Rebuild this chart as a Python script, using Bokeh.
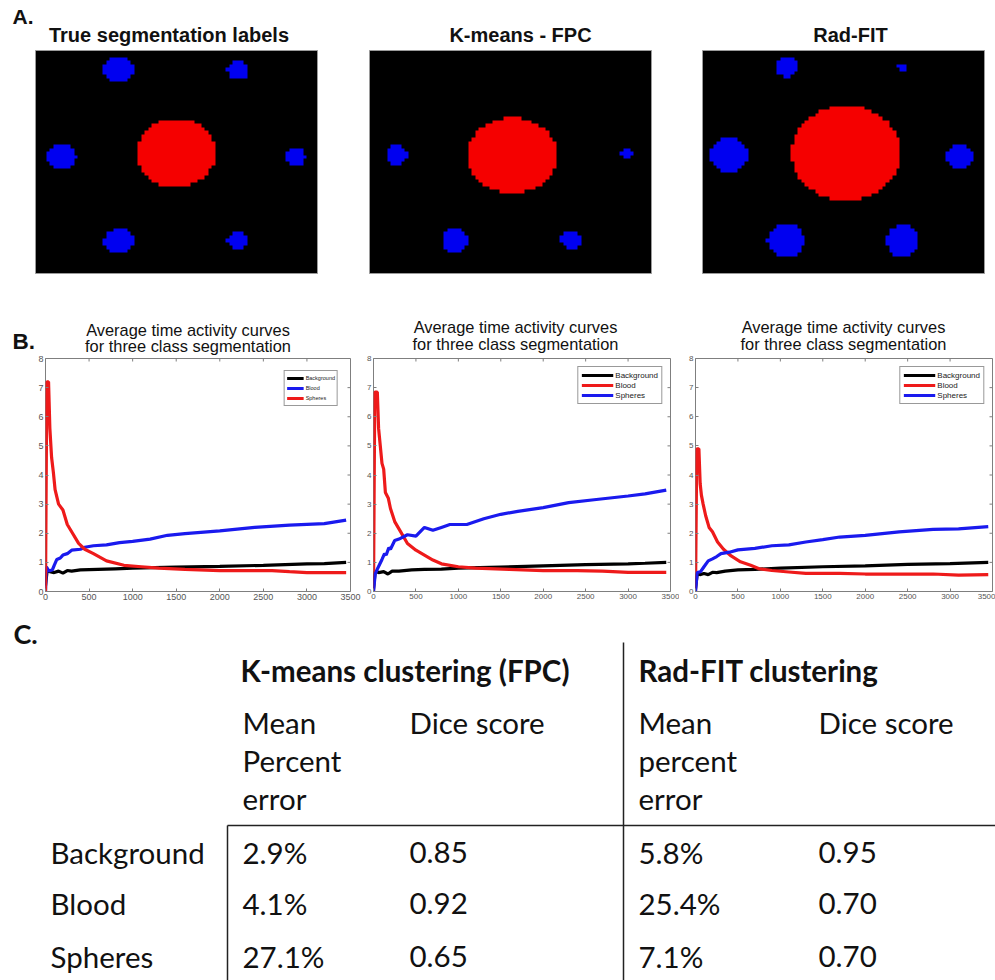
import numpy as np
from bokeh.plotting import figure
from bokeh.layouts import column, row
from bokeh.models import Range1d, FixedTicker, LinearColorMapper
from bokeh.core.properties import value
from bokeh.embed import file_html
from bokeh.resources import INLINE

# ------------------------------------------------------------------ data
panel_a_titles = ["True segmentation labels", "K-means - FPC", "Rad-FIT"]

# segmentation blobs: (class, cx, cy, rx, ry) in image pixels, origin top-left
# class 1 = red, class 2 = blue
blobs_true = [
    (1, 140.5, 102.5, 39.5, 34.5),
    (2, 83.0, 19.0, 15.0, 12.5),
    (2, 202.5, 19.5, 10.5, 9.5),
    (2, 26.0, 106.5, 15.0, 12.5),
    (2, 259.5, 106.5, 10.5, 9.5),
    (2, 83.0, 190.5, 15.0, 12.5),
    (2, 202.5, 190.0, 10.5, 9.0),
]
blobs_kmeans = [
    (1, 142.7, 105.0, 45.0, 38.0),
    (2, 27.0, 105.0, 11.0, 10.0),
    (2, 258.0, 103.0, 6.0, 5.0),
    (2, 85.5, 190.0, 12.5, 12.5),
    (2, 201.5, 189.5, 10.5, 8.5),
]
blobs_radfit = [
    (1, 143.7, 102.7, 55.0, 47.5),
    (2, 84.0, 17.0, 11.0, 10.0),
    (2, 199.5, 17.0, 4.5, 4.0),
    (2, 26.5, 104.5, 18.5, 18.0),
    (2, 257.5, 106.0, 14.5, 12.0),
    (2, 83.5, 190.0, 18.5, 17.0),
    (2, 200.0, 190.0, 16.0, 16.0),
]
seg_palette = ["#000000", "#f50000", "#0000f0"]

curve_title_1 = "Average time activity curves"
curve_title_2 = "for three class segmentation"
x_ticks = [0, 500, 1000, 1500, 2000, 2500, 3000, 3500]
y_ticks = [0, 1, 2, 3, 4, 5, 6, 7, 8]

# plot 1: true labels
p1_bg_x = [0, 20, 50, 100, 150, 200, 250, 300, 400, 600, 800, 1000, 1500, 2000, 2500, 3000, 3200, 3450]
p1_bg_y = [0.2, 0.75, 0.68, 0.65, 0.7, 0.63, 0.72, 0.7, 0.74, 0.76, 0.78, 0.8, 0.84, 0.86, 0.9, 0.95, 0.96, 1.0]
p1_blood_x = [0, 10, 40, 80, 100, 130, 170, 200, 250, 300, 400, 450, 550, 700, 850, 1000, 1200, 1400, 1600, 2000, 2400, 2800, 3200, 3450]
p1_blood_y = [0, 0.85, 0.7, 0.75, 0.9, 1.1, 1.15, 1.25, 1.3, 1.42, 1.45, 1.52, 1.57, 1.6, 1.68, 1.72, 1.8, 1.93, 1.99, 2.08, 2.2, 2.28, 2.33, 2.45]
p1_sph_x = [0, 15, 35, 50, 70, 90, 110, 150, 200, 250, 300, 380, 450, 550, 700, 900, 1100, 1300, 1600, 2000, 2300, 2600, 2800, 3000, 3450]
p1_sph_y = [0, 7.2, 7.2, 5.6, 4.6, 4.1, 3.5, 3.0, 2.8, 2.3, 2.05, 1.65, 1.45, 1.3, 1.05, 0.9, 0.85, 0.8, 0.76, 0.72, 0.72, 0.72, 0.68, 0.65, 0.65]

# plot 2: K-means - FPC
p2_bg_x = [0, 20, 60, 120, 170, 220, 300, 450, 600, 800, 1000, 1500, 2000, 2500, 3000, 3200, 3450]
p2_bg_y = [0.1, 0.7, 0.65, 0.68, 0.6, 0.7, 0.7, 0.74, 0.76, 0.77, 0.8, 0.84, 0.88, 0.92, 0.95, 0.97, 1.0]
p2_blood_x = [0, 15, 45, 60, 80, 100, 120, 140, 175, 200, 250, 300, 400, 500, 600, 700, 800, 1000, 1200, 1600, 2000, 2400, 2700, 3000, 3450]
p2_blood_y = [0, 6.85, 6.85, 5.6, 5.0, 4.4, 4.2, 3.4, 3.2, 2.85, 2.4, 2.15, 1.65, 1.42, 1.25, 1.08, 0.95, 0.85, 0.8, 0.76, 0.72, 0.72, 0.7, 0.66, 0.66]
p2_sph_x = [0, 20, 50, 100, 130, 150, 180, 200, 250, 300, 400, 500, 600, 700, 800, 900, 1100, 1300, 1500, 1700, 2000, 2300, 2600, 3000, 3200, 3450]
p2_sph_y = [0, 0.6, 0.8, 1.1, 1.3, 1.25, 1.5, 1.45, 1.75, 1.8, 1.95, 1.9, 2.2, 2.1, 2.2, 2.3, 2.3, 2.5, 2.65, 2.75, 2.88, 3.05, 3.15, 3.28, 3.35, 3.48]

# plot 3: Rad-FIT
p3_bg_x = [0, 20, 60, 100, 150, 200, 250, 350, 500, 700, 1000, 1500, 2000, 2500, 3000, 3450]
p3_bg_y = [0.1, 0.6, 0.58, 0.62, 0.58, 0.66, 0.65, 0.7, 0.74, 0.76, 0.8, 0.85, 0.88, 0.93, 0.96, 1.0]
p3_blood_x = [0, 15, 40, 55, 70, 90, 120, 160, 200, 260, 330, 420, 530, 650, 750, 900, 1100, 1300, 1700, 2000, 2500, 2800, 3100, 3450]
p3_blood_y = [0, 4.9, 4.9, 3.7, 3.3, 3.0, 2.6, 2.2, 2.05, 1.7, 1.45, 1.22, 1.02, 0.9, 0.78, 0.72, 0.67, 0.62, 0.62, 0.6, 0.6, 0.6, 0.56, 0.58]
p3_sph_x = [0, 20, 60, 100, 150, 200, 250, 300, 400, 500, 700, 900, 1100, 1300, 1500, 1700, 2000, 2400, 2800, 3100, 3450]
p3_sph_y = [0, 0.65, 0.68, 0.85, 1.05, 1.12, 1.2, 1.3, 1.35, 1.43, 1.48, 1.57, 1.6, 1.7, 1.78, 1.87, 1.93, 2.05, 2.13, 2.15, 2.23]

# table (panel C)
table_classes = ["Background", "Blood", "Spheres"]
kmeans_mpe = [2.9, 4.1, 27.1]
kmeans_dice = [0.85, 0.92, 0.65]
radfit_mpe = [5.8, 25.4, 7.1]
radfit_dice = [0.95, 0.70, 0.70]
method_headers = ["K-means clustering (FPC)", "Rad-FIT clustering"]
mpe_header_left = ["Mean", "Percent", "error"]
mpe_header_right = ["Mean", "percent", "error"]
dice_header = "Dice score"

RED = "#ee1a1a"
BLUE = "#1a1aee"
BLACK = "#000000"

# ------------------------------------------------------------------ helpers
IMG_W, IMG_H = 282, 223
GRID_NX, GRID_NY = 80, 64
UPS = 4
BASE_SHIFT = 0.34  # compensates the rendered baseline offset (fraction of font size)


def rasterize(blobs):
    xs = (np.arange(GRID_NX) + 0.5) * IMG_W / GRID_NX
    ys = (np.arange(GRID_NY) + 0.5) * IMG_H / GRID_NY
    X, Y = np.meshgrid(xs, ys)
    lab = np.zeros((GRID_NY, GRID_NX))
    for cls, cx, cy, rx, ry in blobs:
        inside = ((X - cx) / rx) ** 2 + ((Y - cy) / ry) ** 2 <= 1.0
        lab[inside] = cls
    lab = np.repeat(np.repeat(lab, UPS, axis=0), UPS, axis=1)
    return np.flipud(lab)


def blank(width, height):
    p = figure(width=width, height=height, x_range=Range1d(0, width), y_range=Range1d(0, height),
               x_axis_type=None, y_axis_type=None, output_backend="svg", toolbar_location=None,
               tools="", min_border=0, min_border_left=0, min_border_right=0,
               min_border_top=0, min_border_bottom=0)
    p.grid.visible = False
    p.outline_line_color = None
    p.background_fill_color = "white"
    p.border_fill_color = "white"
    return p


def put_text(p, page_top, xs, baselines, texts, font, size, bold=False, align="left", color="#111111"):
    """place texts by their page baseline (page_top = page y of the figure's top edge)"""
    h = p.height
    ys = [h - (b - page_top) + BASE_SHIFT * size for b in baselines]
    p.text(x=xs, y=ys, text=texts, text_font=font, text_font_size=f"{size}px",
           text_font_style="bold" if bold else "normal", text_baseline="alphabetic",
           text_align=align, text_color=color)


ARIAL = value("Liberation Sans")
CAL = value("Lato")
W = 995

# ------------------------------------------------------------------ panel A (+ B titles)
HA = 355
pa = blank(W, HA)
put_text(pa, 0, [12], [23], ["A."], ARIAL, 21, bold=True)
img_left = [35, 369, 702]
img_bottom = HA - 273
cmap = LinearColorMapper(palette=seg_palette, low=0, high=2)
for i, blobs in enumerate([blobs_true, blobs_kmeans, blobs_radfit]):
    pa.image(image=[rasterize(blobs)], x=img_left[i], y=img_bottom, dw=IMG_W, dh=IMG_H, color_mapper=cmap)
    pa.quad(left=[img_left[i]], right=[img_left[i] + IMG_W], bottom=[img_bottom], top=[img_bottom + IMG_H],
            fill_color=None, line_color="#9a9a9a", line_width=1)
put_text(pa, 0, [168.5, 520, 850], [41, 41, 41], panel_a_titles, ARIAL, 20, bold=True, align="center")
put_text(pa, 0, [12], [349], ["B."], ARIAL, 22.5, bold=True)
b_title_x = [187.5, 515, 843]
put_text(pa, 0, b_title_x, [335, 332, 332], [curve_title_1] * 3, ARIAL, 16.4, align="center")
put_text(pa, 0, b_title_x, [351, 349, 349], [curve_title_2] * 3, ARIAL, 16.4, align="center")

# ------------------------------------------------------------------ panel B
HB = 255
FRAME_H = 233
GRAY = "#7f7f7f"
TICK = 3


def style_axis(ax, font):
    ax.axis_line_color = None
    ax.major_tick_in = TICK
    ax.major_tick_out = 0
    ax.minor_tick_line_color = None
    ax.major_tick_line_color = GRAY
    ax.major_label_text_font = "Liberation Sans"
    ax.major_label_text_font_size = font
    ax.major_label_text_color = "#555555"
    ax.major_label_standoff = 2


def curve_plot(width, left, right, series, tick_font, leg_font, glyph_w, leg_margin, leg_pad):
    frame_w = width - left - right
    p = figure(width=width, height=HB, x_range=Range1d(0, 3500), y_range=Range1d(0, 8),
               output_backend="svg", toolbar_location=None, tools="",
               min_border_left=left, min_border_right=right, min_border_top=3, min_border_bottom=19)
    p.grid.visible = False
    p.outline_line_color = GRAY
    p.outline_line_width = 1
    p.xaxis.ticker = FixedTicker(ticks=x_ticks)
    p.yaxis.ticker = FixedTicker(ticks=y_ticks)
    style_axis(p.xaxis[0], tick_font)
    style_axis(p.yaxis[0], tick_font)
    # tick marks on the top and right edges of the box
    dy = TICK * 8 / FRAME_H
    dx = TICK * 3500 / frame_w
    p.segment(x0=x_ticks, y0=[8] * len(x_ticks), x1=x_ticks, y1=[8 - dy] * len(x_ticks),
              line_color=GRAY, line_width=1)
    p.segment(x0=[3500] * len(y_ticks), y0=y_ticks, x1=[3500 - dx] * len(y_ticks), y1=y_ticks,
              line_color=GRAY, line_width=1)
    for label, color, xs, ys in series:
        p.line(xs, ys, line_width=3.2, line_color=color, legend_label=label)
    lg = p.legend[0]
    lg.location = "top_right"
    lg.margin = leg_margin
    lg.padding = leg_pad
    lg.spacing = 0
    lg.label_text_font = "Liberation Sans"
    lg.label_text_font_size = leg_font
    lg.label_text_color = "#222222"
    lg.label_height = 10
    lg.glyph_height = 10
    lg.glyph_width = glyph_w
    lg.label_standoff = 2
    lg.border_line_color = "#333333"
    lg.border_line_width = 1
    lg.background_fill_color = "white"
    lg.background_fill_alpha = 1.0
    return p


p1 = curve_plot(361, 45, 11, [("Background", BLACK, p1_bg_x, p1_bg_y),
                              ("Blood", BLUE, p1_blood_x, p1_blood_y),
                              ("Spheres", RED, p1_sph_x, p1_sph_y)],
                "9px", "5.5px", 17, 12, 2)
p2 = curve_plot(318, 12, 9, [("Background", BLACK, p2_bg_x, p2_bg_y),
                             ("Blood", RED, p2_blood_x, p2_blood_y),
                             ("Spheres", BLUE, p2_sph_x, p2_sph_y)],
                "8px", "8px", 32, 8, 3)
p3 = curve_plot(316, 16, 3, [("Background", BLACK, p3_bg_x, p3_bg_y),
                             ("Blood", RED, p3_blood_x, p3_blood_y),
                             ("Spheres", BLUE, p3_sph_x, p3_sph_y)],
                "8px", "8px", 32, 8, 3)

# ------------------------------------------------------------------ panel C
HC = 370
C_TOP = 610
pc = blank(W, HC)
put_text(pc, C_TOP, [13], [642], ["C."], CAL, 27, bold=True)
put_text(pc, C_TOP, [240, 638], [680, 680], method_headers, CAL, 29.5, bold=True)
hdr_base = [732, 770, 808]
put_text(pc, C_TOP, [242] * 3, hdr_base, mpe_header_left, CAL, 29.5)
put_text(pc, C_TOP, [638] * 3, hdr_base, mpe_header_right, CAL, 29.5)
put_text(pc, C_TOP, [409, 818], [732, 732], [dice_header] * 2, CAL, 29.5)
row_base = [862, 913, 966]
put_text(pc, C_TOP, [50] * 3, row_base, table_classes, CAL, 29.5)
col_x = [242, 409, 638, 818]
cols = [[f"{v:.1f}%" for v in kmeans_mpe], [f"{v:.2f}" for v in kmeans_dice],
        [f"{v:.1f}%" for v in radfit_mpe], [f"{v:.2f}" for v in radfit_dice]]
for cx, vals in zip(col_x, cols):
    put_text(pc, C_TOP, [cx] * 3, row_base, vals, CAL, 29.5)


def cy(page_y):
    return HC - (page_y - C_TOP)


pc.segment(x0=[623, 227, 227], y0=[cy(642), cy(825), cy(825)], x1=[623, 995, 227],
           y1=[cy(980), cy(825), cy(980)], line_color="#222222", line_width=1.5)

layout = column(pa, row(p1, p2, p3, spacing=0), pc, spacing=0)
open("out.html", "w").write(file_html(layout, INLINE, title="Segmentation comparison"))
